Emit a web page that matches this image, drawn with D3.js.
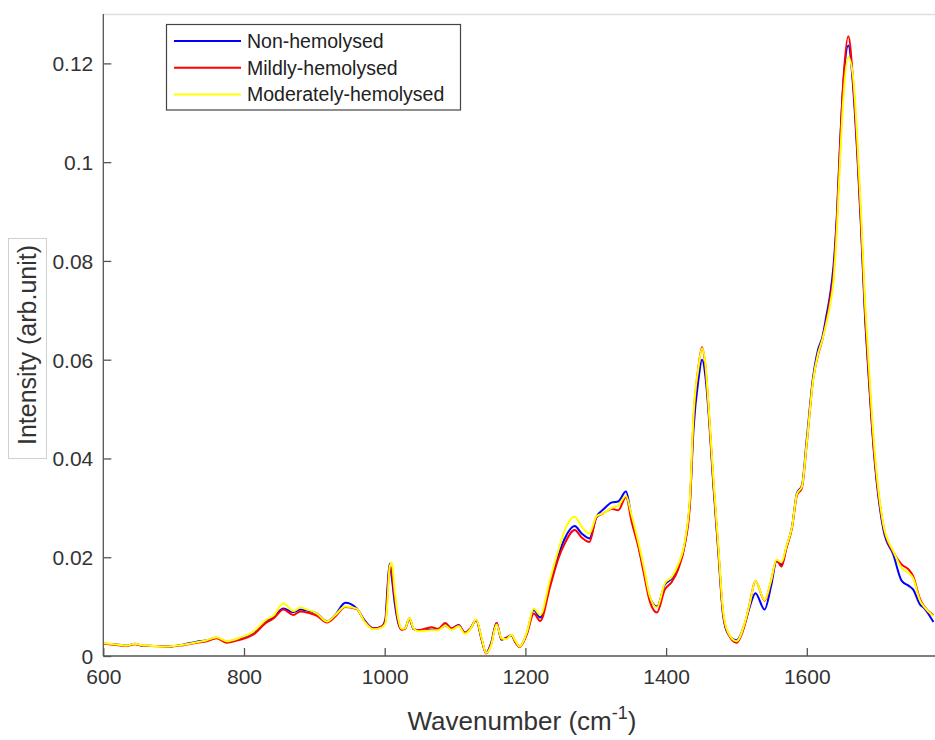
<!DOCTYPE html>
<html>
<head>
<meta charset="utf-8">
<script src="https://cdn.jsdelivr.net/npm/d3@7"></script>
<style>
    body { margin: 0; background: #fff; }
    svg { display: block; font-family: "Liberation Sans", Arial, sans-serif; }
</style>
</head>
<body>
<div id="chart"></div>
<script>
let wavenumbers = [
    600, 615, 633, 645, 655, 666, 690, 709, 733, 747,
    761, 775, 794, 813, 832, 842, 856, 870, 880, 892,
    903, 918, 929, 944, 960, 972, 984, 996, 1001, 1004,
    1007, 1010, 1014, 1019, 1024, 1029, 1035, 1041, 1048, 1057,
    1067, 1076, 1086, 1095, 1105, 1114, 1122, 1130, 1138, 1144,
    1151, 1159, 1166, 1173, 1180, 1186, 1192, 1202, 1212, 1221,
    1235, 1247, 1256, 1270, 1280, 1291, 1301, 1311, 1323, 1332,
    1343, 1351, 1361, 1368, 1377, 1387, 1398, 1408, 1417, 1427,
    1434, 1439, 1446, 1451, 1456, 1460, 1467, 1474, 1481, 1488,
    1500, 1512, 1519, 1527, 1540, 1549, 1557, 1564, 1571, 1579,
    1586, 1593, 1600, 1609, 1616, 1622, 1628, 1633, 1638, 1643,
    1647, 1652, 1659, 1666, 1672, 1677, 1683, 1686, 1695, 1709,
    1723, 1735, 1745, 1751, 1761, 1766, 1780
];

let nonHemolysed = [
    .0025, .0024, .0021, .0025, .0021, .0021, .0019, .0022, .0029, .0032,
    .0037, .0029, .0036, .0047, .0071, .0079, .0096, .0089, .0094, .0091,
    .0087, .0070, .0082, .0108, .0097, .0071, .0056, .0060, .0075, .0140,
    .0187, .0160, .0110, .0068, .0054, .0056, .0076, .0055, .0052, .0053,
    .0053, .0053, .0062, .0055, .0063, .0047, .0056, .0073, .0032, .0006,
    .0025, .0067, .0033, .0037, .0042, .0028, .0019, .0046, .0093, .0078,
    .0148, .0205, .0238, .0263, .0248, .0238, .0282, .0297, .0311, .0313,
    .0333, .0280, .0222, .0176, .0118, .0100, .0144, .0157, .0181, .0231,
    .0316, .0460, .0560, .0600, .0565, .0500, .0350, .0215, .0083, .0045,
    .0032, .0066, .0100, .0127, .0094, .0140, .0192, .0185, .0220, .0262,
    .0330, .0345, .0440, .0565, .0620, .0645, .0690, .0730, .0790, .0900,
    .1030, .1160, .1236, .1150, .1010, .0870, .0680, .0610, .0420, .0255,
    .0205, .0152, .0142, .0135, .0104, .0098, .0069
];

let mildlyHemolysed = [
    .0025, .0023, .0020, .0024, .0021, .0020, .0019, .0021, .0027, .0030,
    .0036, .0027, .0033, .0043, .0068, .0076, .0094, .0083, .0090, .0087,
    .0082, .0068, .0079, .0099, .0095, .0069, .0055, .0060, .0070, .0125,
    .0183, .0170, .0120, .0072, .0053, .0055, .0076, .0055, .0052, .0055,
    .0058, .0055, .0067, .0056, .0062, .0047, .0056, .0073, .0033, .0005,
    .0022, .0067, .0034, .0036, .0042, .0027, .0018, .0044, .0086, .0071,
    .0140, .0198, .0228, .0255, .0240, .0231, .0281, .0289, .0298, .0295,
    .0322, .0272, .0218, .0170, .0110, .0088, .0134, .0150, .0175, .0228,
    .0310, .0480, .0585, .0625, .0585, .0510, .0356, .0221, .0086, .0046,
    .0027, .0064, .0107, .0152, .0112, .0150, .0194, .0181, .0218, .0260,
    .0325, .0340, .0430, .0560, .0610, .0640, .0680, .0720, .0775, .0890,
    .1020, .1165, .1255, .1160, .1020, .0880, .0690, .0620, .0425, .0262,
    .0210, .0185, .0175, .0162, .0115, .0102, .0083
];

let moderatelyHemolysed = [
    .0026, .0024, .0021, .0025, .0022, .0021, .0019, .0022, .0028, .0032,
    .0038, .0030, .0037, .0049, .0074, .0082, .0107, .0091, .0098, .0093,
    .0087, .0070, .0082, .0100, .0096, .0068, .0054, .0058, .0066, .0110,
    .0180, .0190, .0135, .0078, .0055, .0056, .0077, .0056, .0050, .0051,
    .0052, .0052, .0062, .0053, .0060, .0045, .0055, .0074, .0035, .0006,
    .0020, .0064, .0036, .0034, .0043, .0030, .0019, .0048, .0096, .0083,
    .0155, .0215, .0255, .0282, .0262, .0248, .0283, .0289, .0300, .0305,
    .0324, .0285, .0228, .0182, .0120, .0098, .0147, .0160, .0185, .0235,
    .0325, .0490, .0585, .0623, .0590, .0515, .0365, .0228, .0092, .0048,
    .0030, .0068, .0107, .0152, .0113, .0152, .0195, .0190, .0222, .0262,
    .0328, .0343, .0432, .0558, .0612, .0640, .0675, .0710, .0760, .0870,
    .0995, .1130, .1213, .1170, .1040, .0900, .0710, .0640, .0440, .0265,
    .0212, .0178, .0168, .0158, .0112, .0101, .0081
];

let seriesNames = ["Non-hemolysed", "Mildly-hemolysed", "Moderately-hemolysed"];
let seriesColors = ["#0000ff", "#ff0000", "#ffff00"];
let xTicks = [600, 800, 1000, 1200, 1400, 1600];
let yTicks = [0, 0.02, 0.04, 0.06, 0.08, 0.1, 0.12];

let width = 935,
    height = 740,
    plotLeft = 103.3,
    plotTop = 14,
    plotBottom = 656;

let x = d3.scaleLinear()
    .domain([600, 1800])
    .range([plotLeft, plotLeft + 1200 * 0.7035]);

let y = d3.scaleLinear()
    .domain([0, 0.13])
    .range([plotBottom, plotTop]);

let svg = d3.select("#chart")
    .append("svg")
    .attr("width", width)
    .attr("height", height);

svg.append("defs")
    .append("clipPath")
    .attr("id", "plot-clip")
    .append("rect")
    .attr("x", plotLeft)
    .attr("y", plotTop)
    .attr("width", width - plotLeft)
    .attr("height", plotBottom - plotTop);

// light frame line along the top
svg.append("line")
    .attr("x1", plotLeft)
    .attr("x2", width)
    .attr("y1", plotTop + 0.5)
    .attr("y2", plotTop + 0.5)
    .attr("stroke", "#dedede")
    .attr("stroke-width", 1.5);

let series = [nonHemolysed, mildlyHemolysed, moderatelyHemolysed].map(function (values, i) {
    return {
        name: seriesNames[i],
        color: seriesColors[i],
        points: wavenumbers.map(function (w, j) {
            return {w: w, v: values[j]};
        })
    };
});

let line = d3.line()
    .x(function (d) { return x(d.w); })
    .y(function (d) { return y(d.v); })
    .curve(d3.curveMonotoneX);

svg.append("g")
    .attr("clip-path", "url(#plot-clip)")
    .selectAll("path")
    .data(series)
    .enter()
    .append("path")
    .attr("fill", "none")
    .attr("stroke", function (d) { return d.color; })
    .attr("stroke-width", 2)
    .attr("stroke-linejoin", "round")
    .attr("d", function (d) { return line(d.points); });

// axes: ticks pointing inward, MATLAB style
let xAxis = svg.append("g")
    .attr("transform", "translate(0," + plotBottom + ")")
    .call(d3.axisTop(x).tickValues(xTicks).tickSizeInner(8).tickSizeOuter(0).tickFormat(d3.format("d")));

let yAxis = svg.append("g")
    .attr("transform", "translate(" + plotLeft + ",0)")
    .call(d3.axisRight(y).tickValues(yTicks).tickSizeInner(8).tickSizeOuter(0).tickFormat(function (d) {
        return d === 0 ? "0" : String(+d.toFixed(2));
    }));

[xAxis, yAxis].forEach(function (g) {
    g.select(".domain").attr("stroke", "#555").attr("stroke-width", 1.3);
    g.selectAll(".tick line").attr("stroke", "#555").attr("stroke-width", 1.3);
    g.selectAll(".tick text")
        .attr("fill", "#333")
        .style("font-size", "21px")
        .style("font-family", "'Liberation Sans', Arial, sans-serif");
});

xAxis.select(".domain").attr("d", "M" + plotLeft + ",0H" + width);
yAxis.select(".domain").attr("d", "M0," + plotBottom + "V" + plotTop);

xAxis.selectAll(".tick text")
    .attr("y", 28)
    .attr("dy", 0)
    .attr("text-anchor", "middle");

yAxis.selectAll(".tick text")
    .attr("x", -10)
    .attr("dy", "0.35em")
    .attr("text-anchor", "end");

// x label with superscript
let xLabel = svg.append("text")
    .attr("x", 522)
    .attr("y", 730)
    .attr("text-anchor", "middle")
    .attr("fill", "#333")
    .style("font-size", "26px");
xLabel.append("tspan").text("Wavenumber (cm");
xLabel.append("tspan").attr("dy", -11).style("font-size", "18px").text("-1");
xLabel.append("tspan").attr("dy", 11).text(")");

// y label inside a thin box
svg.append("rect")
    .attr("x", 8.5)
    .attr("y", 238.5)
    .attr("width", 38)
    .attr("height", 220)
    .attr("fill", "#fff")
    .attr("stroke", "#d0d0d0")
    .attr("stroke-width", 1);

svg.append("text")
    .attr("transform", "translate(36,345) rotate(-90)")
    .attr("text-anchor", "middle")
    .attr("fill", "#333")
    .style("font-size", "25px")
    .text("Intensity (arb.unit)");

// legend
let legend = svg.append("g");

legend.append("rect")
    .attr("x", 166.5)
    .attr("y", 24.5)
    .attr("width", 294)
    .attr("height", 85.5)
    .attr("fill", "#fff")
    .attr("stroke", "#444")
    .attr("stroke-width", 1.2);

let item = legend.selectAll(".item")
    .data(series)
    .enter()
    .append("g")
    .attr("class", "item")
    .attr("transform", function (d, i) {
        return "translate(0," + (41 + i * 26.7) + ")";
    });

item.append("line")
    .attr("x1", 174)
    .attr("x2", 241)
    .attr("stroke", function (d) { return d.color; })
    .attr("stroke-width", 2);

item.append("text")
    .attr("x", 247)
    .attr("y", 7)
    .attr("fill", "#222")
    .style("font-size", "19.5px")
    .text(function (d) { return d.name; });
</script>
</body>
</html>
